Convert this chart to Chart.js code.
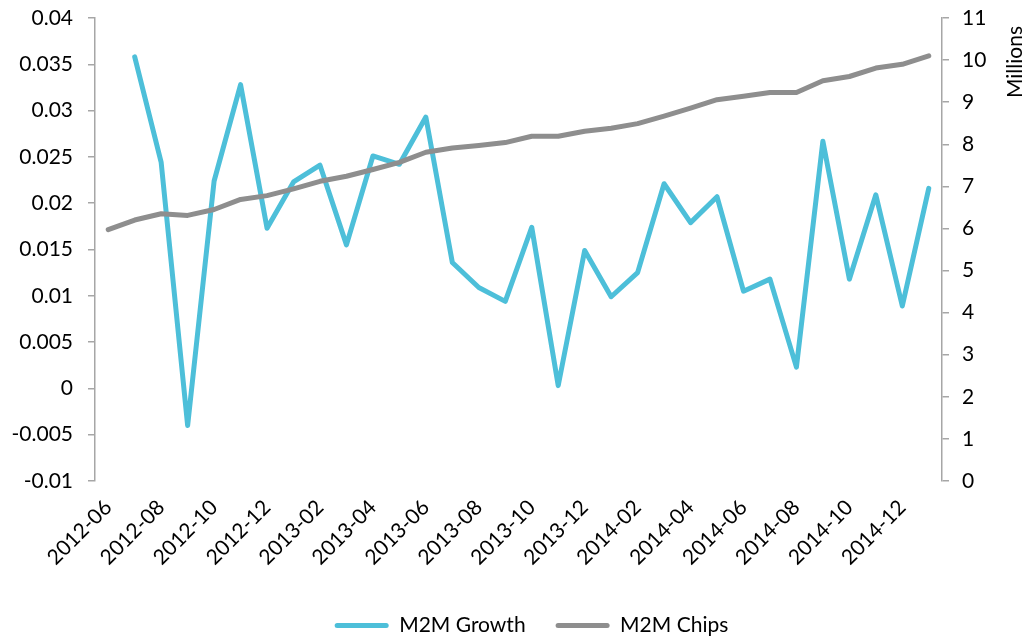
<!DOCTYPE html>
<html>
<head>
<meta charset="utf-8">
<script src="https://cdn.jsdelivr.net/npm/chart.js"></script>
<style>
  html, body { margin: 0; padding: 0; background: #fff; }
  #wrap { width: 1029px; height: 638px; }
</style>
</head>
<body>
<div id="wrap"><canvas id="myChart" width="1029" height="638"></canvas></div>
<script>
// months, 2012-06 .. 2015-01
var months = [
  '2012-06','2012-07','2012-08','2012-09','2012-10','2012-11','2012-12',
  '2013-01','2013-02','2013-03','2013-04','2013-05','2013-06','2013-07','2013-08','2013-09','2013-10','2013-11','2013-12',
  '2014-01','2014-02','2014-03','2014-04','2014-05','2014-06','2014-07','2014-08','2014-09','2014-10','2014-11','2014-12',
  '2015-01'
];

var growth = [
  null, 0.0358, 0.0244, -0.0040, 0.0224, 0.0328, 0.0173,
  0.0223, 0.0241, 0.0155, 0.0251, 0.0242, 0.0293, 0.0136, 0.0109, 0.0094, 0.0174, 0.0003, 0.0149,
  0.0099, 0.0125, 0.0221, 0.0179, 0.0207, 0.0105, 0.0118, 0.0023, 0.0267, 0.0118, 0.0209, 0.0089,
  0.0216
];

// millions
var chips = [
  5.97, 6.20, 6.35, 6.31, 6.45, 6.69, 6.78,
  6.94, 7.12, 7.24, 7.40, 7.57, 7.81, 7.91, 7.97, 8.04, 8.19, 8.19, 8.31,
  8.38, 8.49, 8.67, 8.86, 9.06, 9.14, 9.23, 9.23, 9.51, 9.61, 9.81, 9.90,
  10.10
];

var fontFam = 'Lato, "Open Sans", sans-serif';
var fontSize = 21;
var axisGrey = '#a6a6a6';

// drop the extra top/bottom room chart.js adds for tick padding
function noVPad(s) { s.paddingTop = 0; s.paddingBottom = 0; }

var millionsTitle = {
  id: 'millionsTitle',
  afterLayout: function(chart) {
    // nudge legend a bit right, like the original
    chart.legend.left += 17;
    chart.legend.right += 17;
  },
  afterDraw: function(chart) {
    var c = chart.ctx;
    var s = chart.scales.y1;
    c.save();
    c.translate(s.right - 14, chart.chartArea.top + 44);
    c.rotate(-Math.PI / 2);
    c.font = fontSize + 'px ' + fontFam;
    c.fillStyle = '#000';
    c.textAlign = 'center';
    c.textBaseline = 'middle';
    c.fillText('Millions', 0, 0);
    c.restore();
  }
};

var ctx = document.getElementById('myChart').getContext('2d');

var myChart = new Chart(ctx, {
  type: 'line',
  data: {
    labels: months,
    datasets: [{
      label: 'M2M Growth',
      data: growth,
      yAxisID: 'y',
      borderColor: '#4dbfd9',
      backgroundColor: '#4dbfd9',
      borderWidth: 5,
      pointRadius: 0,
      tension: 0,
      borderJoinStyle: 'round',
      borderCapStyle: 'round',
      order: 2
    }, {
      label: 'M2M Chips',
      data: chips,
      yAxisID: 'y1',
      borderColor: '#8e8e8e',
      backgroundColor: '#8e8e8e',
      borderWidth: 5,
      pointRadius: 0,
      tension: 0,
      borderJoinStyle: 'round',
      borderCapStyle: 'round',
      order: 1
    }]
  },
  options: {
    responsive: false,
    animation: false,
    layout: { padding: { top: 18, left: 0, right: 0, bottom: -8 } },
    plugins: {
      tooltip: { enabled: false },
      legend: {
        position: 'bottom',
        labels: {
          boxWidth: 54,
          boxHeight: 5,
          padding: 30,
          color: '#000',
          font: { family: fontFam, size: fontSize },
          generateLabels: function(chart) {
            return chart.data.datasets.map(function(ds, i) {
              return { text: ds.label, fillStyle: ds.borderColor, strokeStyle: ds.borderColor,
                       lineWidth: 0, datasetIndex: i, hidden: false, fontColor: '#000', borderRadius: 2.5 };
            });
          }
        }
      }
    },
    scales: {
      x: {
        offset: true,
        grid: { display: false },
        border: { display: false },
        afterFit: function(s) { s.height = 104; },
        ticks: {
          autoSkip: false,
          minRotation: 45,
          maxRotation: 45,
          padding: 6,
          color: '#000',
          font: { family: fontFam, size: fontSize },
          callback: function(val, idx) {
            return idx % 2 === 0 ? this.getLabelForValue(val) : '';
          }
        }
      },
      y: {
        position: 'left',
        min: -0.01,
        max: 0.04,
        afterFit: function(s) { s.width = 95; noVPad(s); },
        grid: { drawOnChartArea: false, drawTicks: true, tickLength: 7, color: axisGrey, lineWidth: 1.5 },
        border: { display: true, color: axisGrey, width: 1.5 },
        ticks: {
          stepSize: 0.005,
          padding: 15,
          color: '#000',
          font: { family: fontFam, size: fontSize },
          callback: function(v) { return String(Math.round(v * 1000) / 1000); }
        }
      },
      y1: {
        position: 'right',
        min: 0,
        max: 11,
        afterFit: function(s) { s.width = 87; noVPad(s); },
        grid: { drawOnChartArea: false, drawTicks: true, tickLength: 7, color: axisGrey, lineWidth: 1.5 },
        border: { display: true, color: axisGrey, width: 1.5 },
        ticks: {
          stepSize: 1,
          padding: 13,
          color: '#000',
          font: { family: fontFam, size: fontSize }
        }
      }
    }
  },
  plugins: [millionsTitle]
});
</script>
</body>
</html>
